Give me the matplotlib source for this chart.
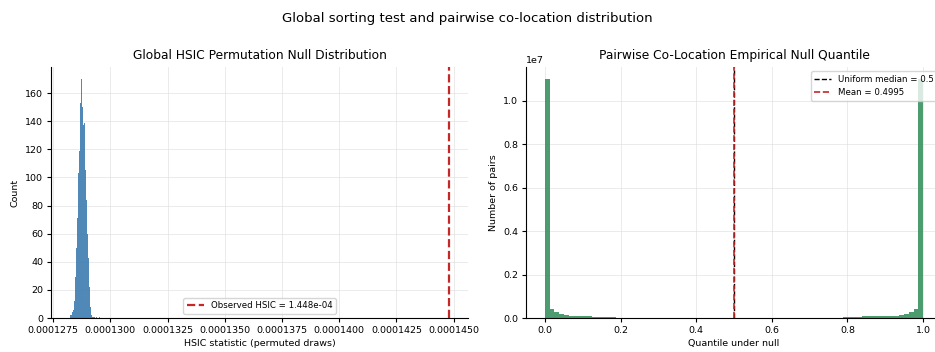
import numpy as np
import matplotlib
matplotlib.use("Agg")
import matplotlib.pyplot as plt
from matplotlib.ticker import FormatStrFormatter, MultipleLocator

# ---- Left panel data: HSIC permutation null histogram ----
hsic_bin_start = 1.28234e-4
hsic_bin_width = 4.394e-8
hsic_counts = [2, 2, 4, 6, 12, 29, 50, 71, 103, 119, 153, 170, 150, 137, 139,
               105, 84, 60, 43, 22, 8, 2, 1, 1, 1, 0, 1, 0, 0, 1]
observed_hsic = 1.448e-4

# ---- Right panel data: pairwise co-location quantiles (80 bins on [0,1]) ----
n_qbins = 80
left_tail = [1.10e7, 4.3e5, 2.8e5, 2.0e5, 1.5e5, 1.1e5, 1.1e5, 1.05e5, 1.0e5, 9.5e4,
             3.5e4, 3.0e4, 2.8e4, 2.6e4, 2.5e4]
middle_level = 2.0e4
right_tail = [2.5e4, 3.0e4, 4.0e4, 6.0e4, 7.0e4, 8.0e4, 8.0e4, 8.0e4, 9.0e4, 1.0e5,
              1.1e5, 1.1e5, 1.3e5, 1.7e5, 2.7e5, 4.3e5, 1.10e7]
quantile_counts = left_tail + [middle_level] * (n_qbins - len(left_tail) - len(right_tail)) + right_tail
uniform_median = 0.5
mean_quantile = 0.4995

plt.rcParams['font.family'] = ['DejaVu Sans']

fig = plt.figure(figsize=(9.35, 3.52), dpi=100)
ax1 = fig.add_axes([51/935, 34/352, 417/935, 251/352])
ax2 = fig.add_axes([526/935, 34/352, 416/935, 251/352])

# Left histogram
edges = hsic_bin_start + hsic_bin_width * np.arange(len(hsic_counts) + 1)
centers = 0.5 * (edges[:-1] + edges[1:])
ax1.hist(centers, bins=edges, weights=hsic_counts, color="steelblue", alpha=0.95)
ax1.axvline(observed_hsic, color="#c62828", linestyle="--", linewidth=1.6,
            label=f"Observed HSIC = {observed_hsic:.3e}")
ax1.set_title("Global HSIC Permutation Null Distribution", fontsize=8.8)
ax1.set_xlabel("HSIC statistic (permuted draws)", fontsize=6.8, labelpad=3)
ax1.set_ylabel("Count", fontsize=6.8)
ax1.legend(loc="lower center", fontsize=6.2)
ax1.xaxis.set_major_locator(MultipleLocator(2.5e-6))
ax1.xaxis.set_major_formatter(FormatStrFormatter("%.7f"))

# Right histogram
qedges = np.linspace(0, 1, n_qbins + 1)
qcenters = 0.5 * (qedges[:-1] + qedges[1:])
ax2.hist(qcenters, bins=qedges, weights=quantile_counts, color="seagreen", alpha=0.85)
ax2.axvline(uniform_median, color="black", linestyle="--", linewidth=1.0,
            label=f"Uniform median = {uniform_median}")
ax2.axvline(mean_quantile, color="#c62828", linestyle="--", linewidth=1.2,
            label=f"Mean = {mean_quantile}")
ax2.set_title("Pairwise Co-Location Empirical Null Quantile", fontsize=8.8)
ax2.set_xlabel("Quantile under null", fontsize=6.8, labelpad=3)
ax2.set_ylabel("Number of pairs", fontsize=6.8)
ax2.legend(loc="upper right", fontsize=6.2)

for ax in (ax1, ax2):
    ax.grid(True, color="#dddddd", linewidth=0.7, alpha=0.6)
    ax.set_axisbelow(True)
    ax.spines["top"].set_visible(False)
    ax.spines["right"].set_visible(False)
    ax.tick_params(labelsize=6.8, length=3, pad=2.5)
    ax.yaxis.get_offset_text().set_fontsize(6.8)

fig.suptitle("Global sorting test and pairwise co-location distribution", fontsize=9.5, y=0.965)
fig.savefig("out.png", dpi=100)
